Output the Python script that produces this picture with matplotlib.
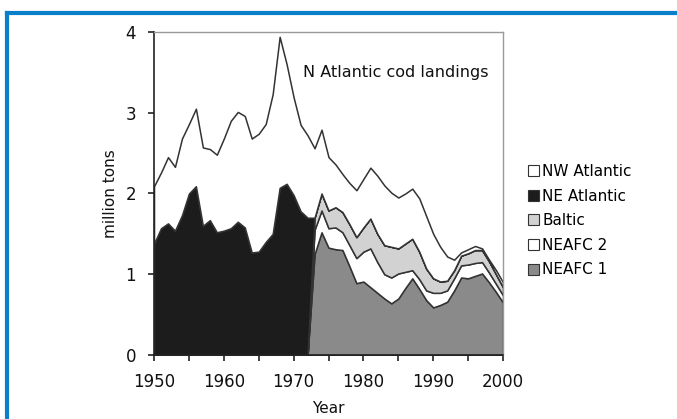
import matplotlib
matplotlib.use("Agg")
import matplotlib.pyplot as plt
import numpy as np
from matplotlib.lines import Line2D
from matplotlib.patches import Patch

YEARS = np.arange(1950, 2001)

# landings by region, million tons
NEAFC1 = [0.0] * 23 + [
    1.25, 1.52, 1.33, 1.31, 1.30, 1.10, 0.89, 0.91, 0.84, 0.77,
    0.70, 0.64, 0.70, 0.83, 0.95, 0.82, 0.68, 0.59, 0.62, 0.66,
    0.80, 0.96, 0.95, 0.98, 1.01, 0.90, 0.78, 0.65,
]
NEAFC2 = [0.0] * 23 + [
    0.30, 0.27, 0.24, 0.27, 0.22, 0.26, 0.31, 0.37, 0.48, 0.38,
    0.30, 0.32, 0.31, 0.20, 0.10, 0.12, 0.12, 0.18, 0.15, 0.14,
    0.15, 0.15, 0.17, 0.16, 0.14, 0.12, 0.10, 0.09,
]
BALTIC = [0.0] * 23 + [
    0.15, 0.21, 0.22, 0.25, 0.25, 0.26, 0.26, 0.30, 0.37, 0.35,
    0.36, 0.38, 0.31, 0.35, 0.39, 0.34, 0.27, 0.18, 0.14, 0.12,
    0.10, 0.12, 0.14, 0.16, 0.15, 0.14, 0.12, 0.10,
]
NE_ATLANTIC = [
    1.38, 1.57, 1.63, 1.54, 1.73, 2.00, 2.09, 1.60, 1.67, 1.52,
    1.54, 1.57, 1.65, 1.58, 1.27, 1.28, 1.40, 1.50, 2.07, 2.12,
    1.98, 1.78, 1.70,
] + [0.0] * 28
NW_ATLANTIC = [
    0.71, 0.69, 0.82, 0.79, 0.95, 0.86, 0.96, 0.97, 0.88, 0.96,
    1.14, 1.33, 1.36, 1.38, 1.41, 1.46, 1.46, 1.73, 1.87, 1.48,
    1.21, 1.07, 1.02, 0.86, 0.79, 0.66, 0.53, 0.47, 0.51, 0.58,
    0.60, 0.63, 0.72, 0.74, 0.67, 0.63, 0.62, 0.62, 0.66, 0.65,
    0.55, 0.43, 0.30, 0.13, 0.04, 0.05, 0.05, 0.02, 0.02, 0.05,
    0.06,
]

LABELS = ["NW Atlantic", "NE Atlantic", "Baltic", "NEAFC 2", "NEAFC 1"]
COLORS = {"NW Atlantic": "white", "NE Atlantic": "#1c1c1c", "Baltic": "#d2d2d2",
          "NEAFC 2": "white", "NEAFC 1": "#8a8a8a"}
EDGE = "#333333"
TEXT = "#111111"


def main():
    fig = plt.figure(figsize=(6.77, 4.19), dpi=100)
    ax = fig.add_axes([0.2275, 0.1527, 0.5155, 0.771])

    order = ["NEAFC 1", "NEAFC 2", "Baltic", "NE Atlantic", "NW Atlantic"]
    series = [NEAFC1, NEAFC2, BALTIC, NE_ATLANTIC, NW_ATLANTIC]
    ax.stackplot(YEARS, *series, colors=[COLORS[k] for k in order],
                 edgecolor=EDGE, linewidth=1.1)

    ax.set_xlim(1950, 2000)
    ax.set_ylim(0, 4)
    ax.set_xticks(np.arange(1950, 2001, 10))
    ax.set_xticks(np.arange(1950, 2001, 5), minor=True)
    ax.set_yticks(np.arange(0, 5, 1))
    ax.tick_params(axis="both", which="both", direction="out", length=4,
                   width=1.2, color="#222222", labelsize=12, labelcolor=TEXT)
    ax.tick_params(axis="x", pad=9)
    ax.tick_params(axis="y", pad=9)
    for side in ("left", "bottom"):
        ax.spines[side].set_color("#222222")
        ax.spines[side].set_linewidth(1.2)
    for side in ("top", "right"):
        ax.spines[side].set_color("#9a9a9a")
        ax.spines[side].set_linewidth(1.0)

    ax.set_xlabel("Year", fontsize=11, labelpad=7, color=TEXT)
    ax.set_ylabel("million tons", fontsize=11, labelpad=5, color=TEXT)
    ax.text(0.427, 0.876, "N Atlantic cod landings", transform=ax.transAxes,
            fontsize=11.5, color=TEXT, va="center")

    handles = [Patch(facecolor=COLORS[k], edgecolor=EDGE, linewidth=0.8) for k in LABELS]
    fig.legend(handles, LABELS, loc="upper left", bbox_to_anchor=(0.768, 0.627),
               frameon=False, fontsize=11, handlelength=0.75, handleheight=0.75,
               handletextpad=0.2, labelspacing=0.63, borderpad=0)

    # blue frame around the figure panel
    blue = "#0a7fc9"
    fig.add_artist(Line2D([0.0105, 0.0105], [0.0, 0.969], color=blue, lw=3,
                          transform=fig.transFigure))
    fig.add_artist(Line2D([0.0105, 1.0], [0.969, 0.969], color=blue, lw=3,
                          transform=fig.transFigure))

    fig.savefig("out.png", dpi=100)


if __name__ == "__main__":
    main()
